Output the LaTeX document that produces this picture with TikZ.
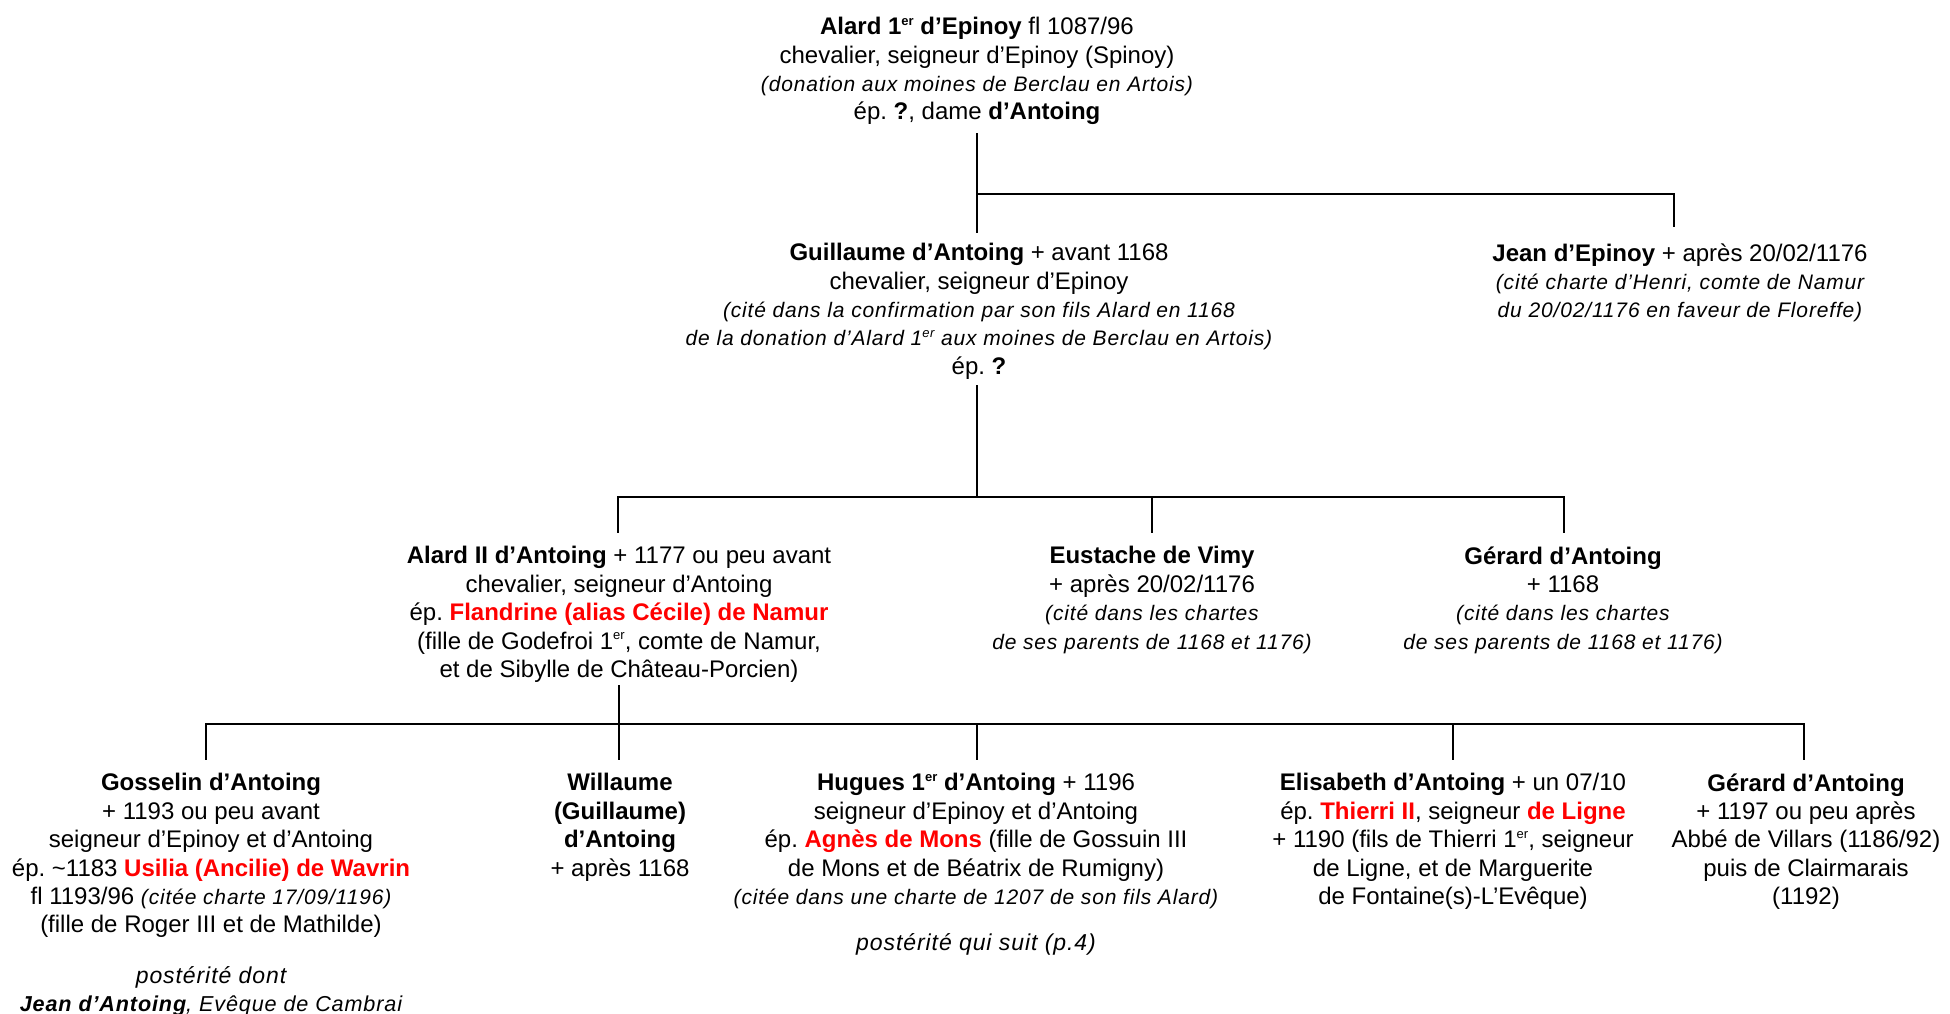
\documentclass[tikz,border=0pt]{standalone}
\usepackage{fontspec}
\setmainfont{Liberation Sans}
\newfontfamily\itfam{Liberation Sans}[Ligatures=TeX,LetterSpace=4]
\definecolor{nred}{RGB}{255,0,0}
\newcommand\itl[1]{{\fontsize{10.5}{14.2}\itfam\itshape #1}}
\newcommand\itb[1]{{\fontsize{11.5}{14.2}\itfam\itshape #1}}
\newcommand\itm[1]{{\fontsize{10.8}{14.2}\itfam\itshape #1}}
\newcommand\rdb[1]{{\bfseries\color{nred}#1}}
\newcommand\ier{\raisebox{0.75ex}{\fontsize{6.5}{6.5}\selectfont er}}
\frenchspacing
\tikzset{
  person/.style={align=center, inner sep=0pt, anchor=north, font=\fontsize{12}{14.2}\selectfont\frenchspacing},
  tree/.style={line width=1.2pt, line cap=rect},
}
\begin{document}
\begin{tikzpicture}[x=0.5pt,y=-0.5pt]
\fill[white] (0,0) rectangle (1950,1013);
\useasboundingbox (0,0) rectangle (1950,1013);

% generation 1
\node[person] (alard1) at (977,17) {{\bfseries Alard 1\ier{} d'Epinoy} fl 1087/96\\
chevalier, seigneur d'Epinoy (Spinoy)\\
\itl{(donation aux moines de Berclau en Artois)}\\
ép. {\bfseries ?}, dame {\bfseries d'Antoing}};

% generation 2
\node[person] (guillaume) at (979,243) {{\bfseries Guillaume d'Antoing} + avant 1168\\
chevalier, seigneur d'Epinoy\\
\itl{(cité dans la confirmation par son fils Alard en 1168}\\
\itl{de la donation d'Alard 1\ier{} aux moines de Berclau en Artois)}\\
ép. {\bfseries ?}};
\node[person] (jean) at (1680,243) {{\bfseries Jean d'Epinoy} + après 20/02/1176\\
\itl{(cité charte d'Henri, comte de Namur}\\
\itl{du 20/02/1176 en faveur de Floreffe)}};

% generation 3
\node[person] (alard2) at (619,546) {{\bfseries Alard II d'Antoing} + 1177 ou peu avant\\
chevalier, seigneur d'Antoing\\
ép. \rdb{Flandrine (alias Cécile) de Namur}\\
(fille de Godefroi 1\ier, comte de Namur,\\
et de Sibylle de Château-Porcien)};
\node[person] (eustache) at (1152,546) {{\bfseries Eustache de Vimy}\\
+ après 20/02/1176\\
\itl{(cité dans les chartes}\\
\itl{de ses parents de 1168 et 1176)}};
\node[person] (gerard1) at (1563,546) {{\bfseries Gérard d'Antoing}\\
+ 1168\\
\itl{(cité dans les chartes}\\
\itl{de ses parents de 1168 et 1176)}};

% generation 4
\node[person] (gosselin) at (211,773) {{\bfseries Gosselin d'Antoing}\\
+ 1193 ou peu avant\\
seigneur d'Epinoy et d'Antoing\\
ép. \textasciitilde1183 \rdb{Usilia (Ancilie) de Wavrin}\\
fl 1193/96 \itl{(citée charte 17/09/1196)}\\
(fille de Roger III et de Mathilde)\\[11pt]
\itb{postérité dont}\\
\itm{\bfseries Jean d'Antoing}\itm{, Evêque de Cambrai}};
\node[person] (willaume) at (620,773) {{\bfseries Willaume}\\
{\bfseries (Guillaume)}\\
{\bfseries d'Antoing}\\
+ après 1168};
\node[person] (hugues) at (976,773) {{\bfseries Hugues 1\ier{} d'Antoing} + 1196\\
seigneur d'Epinoy et d'Antoing\\
ép. \rdb{Agnès de Mons} (fille de Gossuin III\\
de Mons et de Béatrix de Rumigny)\\
\itl{(citée dans une charte de 1207 de son fils Alard)}\\[9pt]
\itb{postérité qui suit (p.4)}};
\node[person] (elisabeth) at (1453,773) {{\bfseries Elisabeth d'Antoing} + un 07/10\\
ép. \rdb{Thierri II}, seigneur \rdb{de Ligne}\\
+ 1190 (fils de Thierri 1\ier, seigneur\\
de Ligne, et de Marguerite\\
de Fontaine(s)-L'Evêque)};
\node[person] (gerard2) at (1806,773) {{\bfseries Gérard d'Antoing}\\
+ 1197 ou peu après\\
Abbé de Villars (1186/92)\\
puis de Clairmarais\\
(1192)};

% connector ends
\coordinate (a1b) at (977,134);
\coordinate (bar1) at (977,194);
\coordinate (gut) at (977,232);
\coordinate (jet) at (1674,226);

\coordinate (gub) at (977,386);
\coordinate (bar2) at (977,497);
\coordinate (a2t) at (618,532);
\coordinate (eut) at (1152,532);
\coordinate (g1t) at (1564,532);

\coordinate (a2b) at (619,686);
\coordinate (bar3) at (619,724);
\coordinate (got) at (206,759);
\coordinate (wit) at (619,759);
\coordinate (hut) at (977,759);
\coordinate (elt) at (1453,759);
\coordinate (g2t) at (1804,759);

\draw[tree] (a1b) -- (gut);
\draw[tree] (bar1) -| (jet);

\draw[tree] (gub) -- (bar2);
\draw[tree] (a2t) |- (bar2) -| (g1t);
\draw[tree] (eut) -- (eut |- bar2);

\draw[tree] (a2b) -- (wit);
\draw[tree] (got) |- (bar3) -| (g2t);
\draw[tree] (hut) -- (hut |- bar3);
\draw[tree] (elt) -- (elt |- bar3);
\end{tikzpicture}
\end{document}
